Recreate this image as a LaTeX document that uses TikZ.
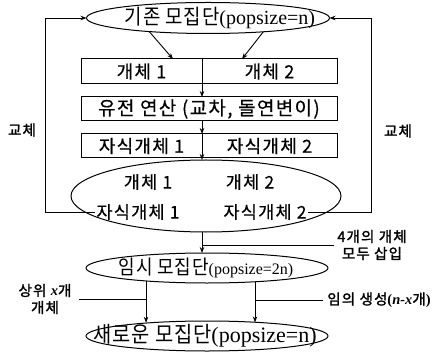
\documentclass[tikz,border=0pt]{standalone}
\usepackage{fontspec}
\setmainfont{Liberation Serif}
\newfontfamily\kr[LetterSpace=7,FakeBold=0.4]{Noto Sans CJK KR}
\newfontfamily\krn[FakeStretch=0.9,LetterSpace=4]{Noto Sans CJK KR}
\newfontfamily\krb[FakeBold=1.8,LetterSpace=8]{Noto Sans CJK KR}
\usetikzlibrary{arrows.meta,shapes.geometric}
\newcommand{\fsz}[1]{\fontsize{#1}{#1}\selectfont}
\begin{document}
\begin{tikzpicture}[x=1pt,y=-1pt,
  every node/.style={inner sep=0pt, outer sep=0pt},
  ell/.style={ellipse, draw, line width=1pt},
  cell/.style={rectangle, draw, line width=1pt, anchor=north west},
  arr/.style={-{Stealth[length=6pt,width=4.5pt]}, line width=0.9pt},
  ln/.style={line width=0.9pt},
  lbl/.style={font=\krb\fontsize{14.5}{17}\selectfont, align=center},
]
\useasboundingbox (0,0) rectangle (435,352);

% ellipses
\node[ell, minimum width=243pt, minimum height=31pt] (top) at (208,18) {};
\node (ttl) at (220,18) {{\krn\fsz{21}기존 모집단}{\fsz{20}(popsize=n)}};

\node[ell, minimum width=270pt, minimum height=72pt] (big) at (206,196) {};
\node[font=\kr\fsz{17.5}] (r1l) at (148,182) {개체 1};
\node[font=\kr\fsz{17.5}] (r1r) at (250,182) {개체 2};
\node[font=\kr\fsz{17.5}] (c1) at (138,212) {자식개체 1};
\node[font=\kr\fsz{17.5}] (c2) at (265,212) {자식개체 2};

\node[ell, minimum width=242pt, minimum height=30pt] (temp) at (207,268) {};
\node (ttl2) at (206,268) {{\krn\fsz{20}임시 모집단}{\fsz{16}(popsize=2n)}};

\node[ell, minimum width=242pt, minimum height=30pt] (new) at (207,336) {};
\node (ttl3) at (205,336) {{\krn\fsz{22}새로운 모집단}{\fsz{22}(popsize=n)}};

% boxes
\node[cell, minimum width=121pt, minimum height=25pt, font=\kr\fsz{18}] (b1l) at (81,59) {개체 1};
\node[cell, minimum width=135pt, minimum height=25pt, font=\kr\fsz{18}] (b1r) at (202,59) {개체 2};
\node[cell, minimum width=256pt, minimum height=24pt, font=\kr\fsz{19}] (box2) at (81,97) {유전 연산 (교차, 돌연변이)};
\node[cell, minimum width=121pt, minimum height=24pt, font=\kr\fsz{18}] (b3l) at (81,134) {자식개체 1};
\node[cell, minimum width=135pt, minimum height=24pt, font=\kr\fsz{18}] (b3r) at (202,134) {자식개체 2};

% labels
\node[lbl] (kL) at (22,130) {교체};
\node[lbl] (kR) at (398,131) {교체};
\node[lbl] (l4) at (372,245) {4개의 개체\\모두 삽입};
\node[lbl] (lL) at (45,299) {상위 {\rmfamily\bfseries\itshape x}개\\개체};
\node[lbl] (lR) at (379,300) {임의 생성{\rmfamily\bfseries (\textit{n-x}}개{\rmfamily\bfseries )}};

% connectors
\draw[arr] (top.193.7) -- ([xshift=-29pt]b1l.north east);
\draw[arr] (top.346.1) -- ([xshift=40pt]b1r.north west);
\draw[arr] (b1l.south east) -- (b1l.south east |- box2.north);
\draw[arr] (b3l.north east |- box2.south) -- (b3l.north east);
\draw[arr] (b3l.south east) -- (b3l.south east |- big.north);
\coordinate (dn) at (202,0);
\draw[arr] (big.south -| dn) -- (temp.north -| dn);
\draw[ln] ([xshift=-3pt]l4.west) -- (l4.west -| dn);

\coordinate (lx) at (45,0);
\coordinate (rx) at (371,0);
\draw[arr] ([xshift=-2pt]c1.west) -- (c1.west -| lx) -- (top.west -| lx) -- (top.west);
\draw[arr] ([xshift=2pt]c2.east) -- (c2.east -| rx) -- (top.east -| rx) -- (top.east);

\draw[arr] (temp.192.5) -- (temp.192.5 |- new.167.5);
\draw[arr] (temp.344.7) -- (temp.344.7 |- new.15.3);
\draw[ln] ([xshift=8pt]lL.east) -- (lL.east -| temp.192.5);
\draw[ln] ([xshift=-4pt]lR.west) -- (lR.west -| temp.344.7);
\end{tikzpicture}
\end{document}
